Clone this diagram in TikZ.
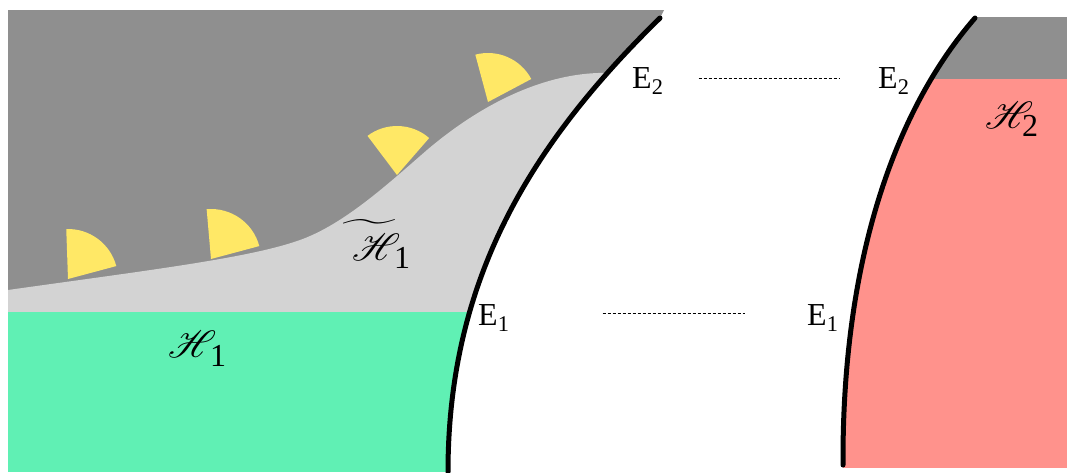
\documentclass[tikz,border=0pt]{standalone}
\usepackage{fontspec}
\setmainfont{Liberation Serif}
\usepackage{graphicx}
\font\letraH=rsfs10 at 38pt
\font\letraT=cmex10 at 32pt
\definecolor{gris}{RGB}{143,143,143}
\definecolor{grisclaro}{RGB}{211,211,211}
\definecolor{verde}{RGB}{96,240,180}
\definecolor{rosa}{RGB}{255,146,140}
\definecolor{amarillo}{RGB}{255,232,102}
\begin{document}
\begin{tikzpicture}[x=1pt, y=-1pt,
        borde/.style={line width=5pt, line cap=round},
        sector/.style={fill=amarillo},
        punteado/.style={line width=1pt, dash pattern=on 3pt off 2pt},
        etiqueta/.style={inner sep=0pt, anchor=base west, font=\fontsize{32}{38}\selectfont}]
        \useasboundingbox (0,0) rectangle (1067,472);

        % Region izquierda
        \begin{scope}
            \clip (8,10) -- (664,10) -- (660,18) .. controls (530,145) and (448,280) .. (448,472) -- (8,472) -- cycle;
            \fill[gris] (0,0) rectangle (700,472);
            \fill[grisclaro] (8,312) -- (8,290) .. controls (150,270) and (250,258) .. (300,240)
                .. controls (345,224) and (390,182) .. (427,150)
                .. controls (480,105) and (540,75) .. (598,73) -- (700,70) -- (700,312) -- cycle;
            \fill[verde] (8,312) rectangle (700,472);
        \end{scope}

        % Sectores amarillos
        \fill[sector] (68,279) -- ++(-15:50) arc[start angle=-15, end angle=-92, radius=50] -- cycle;
        \fill[sector] (211,259) -- ++(-15:50) arc[start angle=-15, end angle=-95, radius=50] -- cycle;
        \fill[sector] (397,175) -- ++(-49:49) arc[start angle=-49, end angle=-127, radius=49] -- cycle;
        \fill[sector] (488,102) -- ++(-28:49) arc[start angle=-28, end angle=-105, radius=49] -- cycle;

        % Frontera izquierda
        \draw[borde] (660,18) .. controls (530,145) and (448,280) .. (448,472);

        % Region derecha
        \begin{scope}
            \clip (975,17) -- (975,18) .. controls (895,110) and (842,260) .. (843,468) -- (1067,468) -- (1067,17) -- cycle;
            \fill[gris] (900,17) rectangle (1067,79);
            \fill[rosa] (800,79) rectangle (1067,468);
        \end{scope}
        \draw[borde] (975,18) .. controls (895,110) and (842,260) .. (843,465);

        % Etiquetas
        \node[etiqueta] (e2izq) at (632,88) {E\textsubscript{2}};
        \node[etiqueta] (e1izq) at (478,325) {E\textsubscript{1}};
        \node[etiqueta] (e2der) at (878,88) {E\textsubscript{2}};
        \node[etiqueta] (e1der) at (807,325) {E\textsubscript{1}};
        \node[etiqueta] (h1) at (168,357) {{\letraH H}\hspace{5pt}\raisebox{-9pt}{1}};
        \node[etiqueta] (h1t) at (343,260) {\rlap{\raisebox{14pt}{\resizebox{52pt}{!}{\letraT\char"67}}}\hspace{9pt}{\letraH H}\hspace{5pt}\raisebox{-8pt}{1}};
        \node[etiqueta] (h2) at (985,128) {{\letraH H}\hspace{0pt}\raisebox{-8pt}{2}};

        % Lineas punteadas
        \draw[punteado, shorten <=35pt, shorten >=38pt] ([yshift=2pt]e2izq.east) -- ([yshift=2pt]e2der.west);
        \draw[punteado, shorten <=93pt, shorten >=62pt] ([yshift=4pt]e1izq.east) -- ([yshift=4pt]e1der.west);
    \end{tikzpicture}
\end{document}
